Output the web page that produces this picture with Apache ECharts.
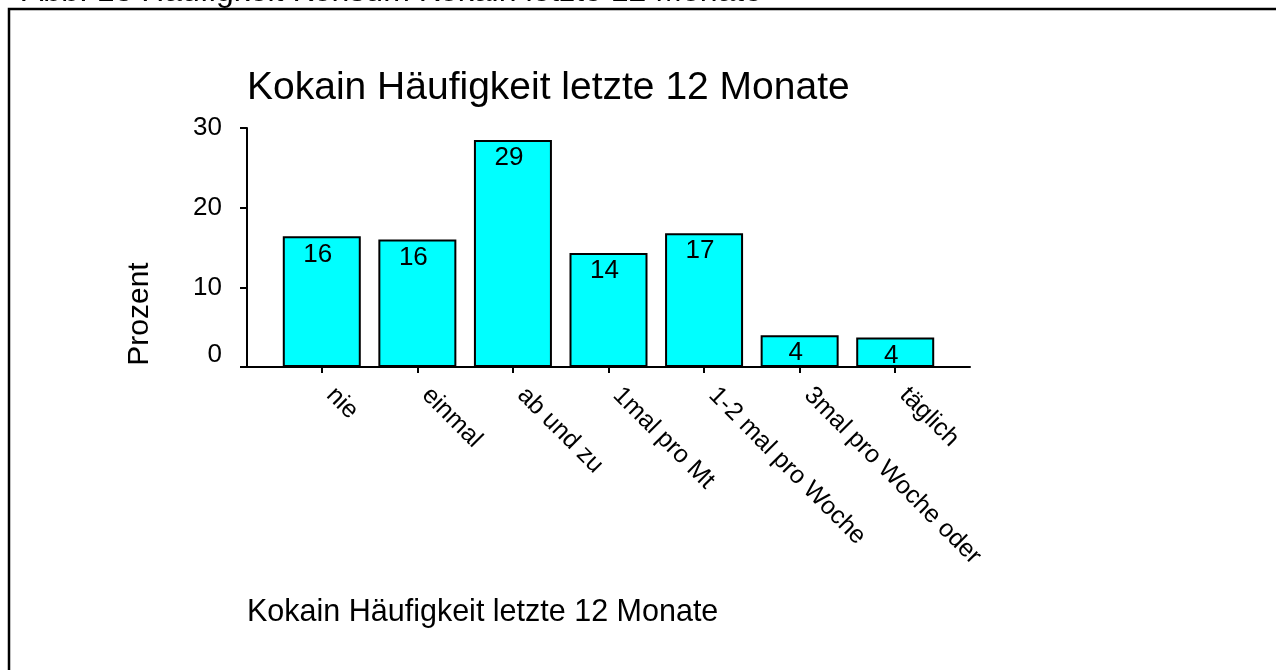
<!DOCTYPE html>
<html>
<head>
    <meta charset="utf-8">
    <title>Kokain Häufigkeit</title>
    <script src="https://cdn.jsdelivr.net/npm/echarts@6/dist/echarts.min.js"></script>
    <style>
        html, body { margin: 0; padding: 0; background: #fff; }
        #c { width: 1276px; height: 670px; }
    </style>
</head>
<body>
    <div id="c"></div>
    <script>
        // Daten
        var kategorien = ['nie', 'einmal', 'ab und zu', '1mal pro Mt', '1-2 mal pro Woche', '3mal pro Woche oder', 'täglich'];
        var prozent = [16.4, 16.0, 28.5, 14.3, 16.8, 4.0, 3.7];
        var yTicks = [0, 10, 20, 30];

        var schrift = '"Liberation Sans", Arial, sans-serif';
        var myChart = echarts.init(document.getElementById('c'));

        var option = {
            backgroundColor: '#fff',
            animation: false,
            title: [{
                text: 'Kokain Häufigkeit letzte 12 Monate',
                left: 247,
                top: 69,
                padding: 0,
                textStyle: { fontFamily: schrift, fontWeight: 'normal', fontSize: 39, color: '#000' }
            }, {
                text: 'Kokain Häufigkeit letzte 12 Monate',
                left: 247,
                top: 597,
                padding: 0,
                textStyle: { fontFamily: schrift, fontWeight: 'normal', fontSize: 30.5, color: '#000' }
            }],
            graphic: [{
                type: 'text',
                left: 22,
                top: -24,
                style: { text: 'Abb. 13 Häufigkeit Konsum Kokain letzte 12 Monate', font: '32px ' + schrift, fill: '#000' }
            }, {
                type: 'rect',
                shape: { x: 9, y: 9, width: 1300, height: 700 },
                style: { fill: 'none', stroke: '#000', lineWidth: 2.5 }
            }, {
                type: 'text',
                x: 140,
                y: 314,
                rotation: Math.PI / 2,
                style: { text: 'Prozent', font: '30px ' + schrift, fill: '#000', align: 'center', verticalAlign: 'middle' }
            }],
            grid: [
                { left: 274, width: 669, top: 128, bottom: 303 },
                { left: 247, width: 723, top: 128, bottom: 303 }
            ],
            xAxis: [{
                type: 'category',
                gridIndex: 0,
                data: kategorien,
                axisLine: { show: false },
                axisTick: { show: true, alignWithLabel: true, length: 6, lineStyle: { color: '#000', width: 2 } },
                axisLabel: {
                    rotate: -45,
                    interval: 0,
                    margin: 16,
                    padding: [0, 0, 0, 12],
                    fontFamily: schrift,
                    fontSize: 25,
                    color: '#000'
                }
            }, {
                type: 'value',
                gridIndex: 1,
                min: 0,
                max: 1,
                axisLine: { show: true, lineStyle: { color: '#000', width: 2 } },
                axisTick: { show: false },
                axisLabel: { show: false },
                splitLine: { show: false }
            }],
            yAxis: [{
                type: 'value',
                gridIndex: 0,
                min: 0,
                max: 30,
                interval: 10,
                show: false
            }, {
                type: 'value',
                gridIndex: 1,
                min: yTicks[0],
                max: yTicks[yTicks.length - 1],
                interval: 10,
                axisLine: { show: true, lineStyle: { color: '#000', width: 2 } },
                axisTick: { show: true, length: 7, lineStyle: { color: '#000', width: 2 } },
                splitLine: { show: false },
                axisLabel: {
                    margin: 25,
                    fontFamily: schrift,
                    fontSize: 26,
                    color: '#000',
                    formatter: function (v) { return v === 0 ? '{z|0}' : String(v); },
                    rich: { z: { fontFamily: schrift, fontSize: 26, color: '#000', padding: [0, 0, 24, 0] } }
                }
            }],
            series: [{
                type: 'bar',
                xAxisIndex: 0,
                yAxisIndex: 0,
                data: prozent,
                barWidth: 78,
                itemStyle: { color: '#00ffff', borderColor: '#000', borderWidth: 2 },
                label: {
                    show: true,
                    position: 'insideTop',
                    distance: 5,
                    offset: [-4, 0],
                    fontFamily: schrift,
                    fontSize: 26,
                    color: '#000',
                    formatter: function (p) { return Math.round(p.value); }
                }
            }]
        };
        myChart.setOption(option);
    </script>
</body>
</html>
